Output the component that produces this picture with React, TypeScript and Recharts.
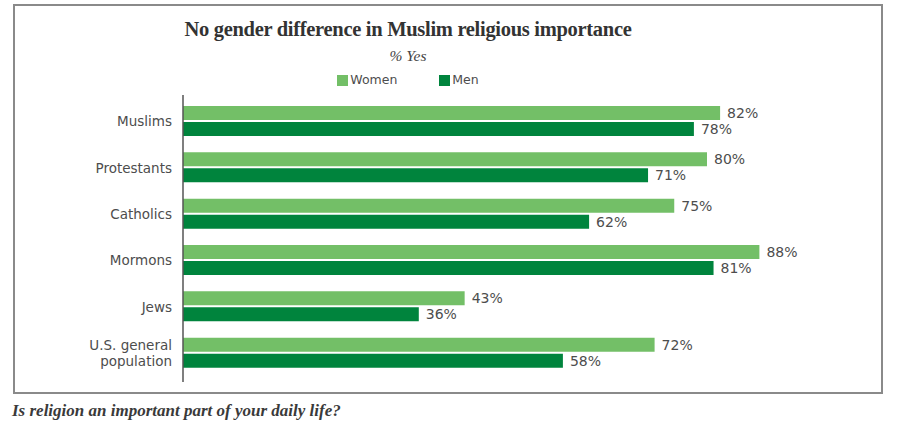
import { Bar, BarChart, LabelList, XAxis, YAxis } from "recharts";

// Religious importance by gender — horizontal grouped bars.
const categories = [
  "Muslims",
  "Protestants",
  "Catholics",
  "Mormons",
  "Jews",
  "U.S. general\npopulation",
];
const women = [82, 80, 75, 88, 43, 72];
const men = [78, 71, 62, 81, 36, 58];

const seriesNames = ["Women", "Men"];
const seriesColors = ["#73bf67", "#00843d"];

const data = categories.map((name, i) => ({ name, women: women[i], men: men[i] }));

const SANS = "'DejaVu Sans', sans-serif";
const SERIF = "'Liberation Serif', 'Times New Roman', serif";

function CategoryTick({ x, y, payload }: { x?: number; y?: number; payload?: { value: string } }) {
  const lines = String(payload?.value ?? "").split("\n");
  const lineHeight = 16.5;
  const start = -((lines.length - 1) * lineHeight) / 2;
  return (
    <text x={x} y={y} textAnchor="end" fill="#4d4d4d" fontSize={13.5} fontFamily={SANS}>
      {lines.map((line, i) => (
        <tspan key={i} x={x} dy={i === 0 ? start + 5 : lineHeight}>
          {line}
        </tspan>
      ))}
    </text>
  );
}

export default function App() {
  return (
    <div style={{ position: "relative", width: 900, height: 438, background: "#fff" }}>
      <style>{"body{margin:0}"}</style>
      <div
        style={{
          position: "absolute",
          left: 13,
          top: 4,
          width: 866,
          height: 386,
          border: "2px solid #8a8a8a",
        }}
      />
      <div
        style={{
          position: "absolute",
          left: 0,
          width: 816,
          top: 17,
          textAlign: "center",
          fontFamily: SERIF,
          fontWeight: 700,
          fontSize: 20.5,
          letterSpacing: -0.3,
          color: "#333",
          lineHeight: "24px",
        }}
      >
        No gender difference in Muslim religious importance
      </div>
      <div
        style={{
          position: "absolute",
          left: 0,
          width: 816,
          top: 46,
          textAlign: "center",
          fontFamily: SERIF,
          fontStyle: "italic",
          fontSize: 15.5,
          color: "#444",
          lineHeight: "20px",
        }}
      >
        % Yes
      </div>
      <div
        style={{
          position: "absolute",
          left: 0,
          width: 816,
          top: 71,
          display: "flex",
          justifyContent: "center",
          gap: 42,
          fontFamily: SANS,
          fontSize: 12.5,
          color: "#4d4d4d",
          lineHeight: "18px",
        }}
      >
        {seriesNames.map((n, i) => (
          <div key={n} style={{ display: "flex", alignItems: "center", gap: 2 }}>
            <span style={{ width: 11, height: 11, background: seriesColors[i], display: "inline-block" }} />
            <span>{n}</span>
          </div>
        ))}
      </div>
      <div
        style={{
          position: "absolute",
          left: 12,
          top: 401,
          fontFamily: SERIF,
          fontStyle: "italic",
          fontWeight: 700,
          fontSize: 17,
          color: "#3a3a3a",
          lineHeight: "20px",
        }}
      >
        Is religion an important part of your daily life?
      </div>
      <div style={{ position: "absolute", left: 0, top: 0 }}>
        <BarChart
          width={900}
          height={438}
          data={data}
          layout="vertical"
          margin={{ top: 95, right: 62, bottom: 56, left: 0 }}
          barSize={14}
          barGap={2}
        >
          <XAxis type="number" domain={[0, 100]} hide />
          <YAxis
            type="category"
            dataKey="name"
            width={183}
            interval={0}
            axisLine={{ stroke: "#555", strokeWidth: 1.5 }}
            tickLine={false}
            tickSize={0}
            tickMargin={11}
            padding={{ top: 3, bottom: 6 }}
            tick={<CategoryTick />}
          />
          <Bar dataKey="women" name={seriesNames[0]} fill={seriesColors[0]} isAnimationActive={false}>
            <LabelList
              dataKey="women"
              position="right"
              offset={7}
              formatter={(v: number) => `${v}%`}
              fill="#4d4d4d"
              fontSize={14}
              fontFamily={SANS}
            />
          </Bar>
          <Bar dataKey="men" name={seriesNames[1]} fill={seriesColors[1]} isAnimationActive={false}>
            <LabelList
              dataKey="men"
              position="right"
              offset={7}
              formatter={(v: number) => `${v}%`}
              fill="#4d4d4d"
              fontSize={14}
              fontFamily={SANS}
            />
          </Bar>
        </BarChart>
      </div>
    </div>
  );
}
